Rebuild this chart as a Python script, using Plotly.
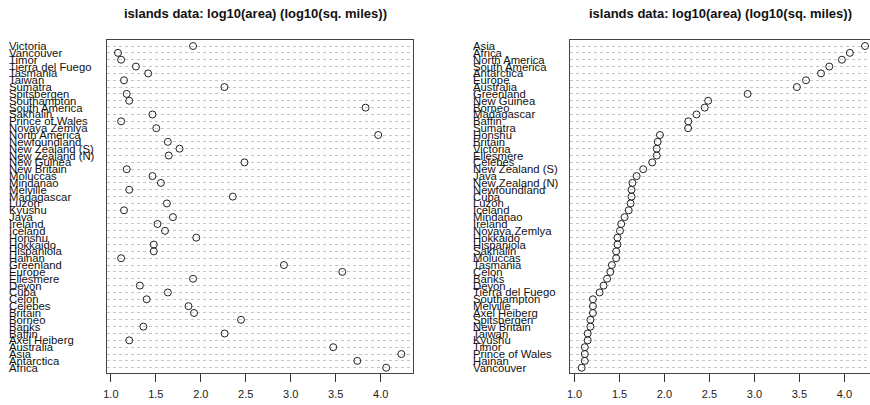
import numpy as np
import plotly.graph_objects as go

# islands data: area in thousands of square miles (dataset order, alphabetical)
islands = ["Africa", "Antarctica", "Asia", "Australia", "Axel Heiberg", "Baffin", "Banks",
           "Borneo", "Britain", "Celebes", "Celon", "Cuba", "Devon", "Ellesmere", "Europe",
           "Greenland", "Hainan", "Hispaniola", "Hokkaido", "Honshu", "Iceland", "Ireland",
           "Java", "Kyushu", "Luzon", "Madagascar", "Melville", "Mindanao", "Moluccas",
           "New Britain", "New Guinea", "New Zealand (N)", "New Zealand (S)", "Newfoundland",
           "North America", "Novaya Zemlya", "Prince of Wales", "Sakhalin", "South America",
           "Southampton", "Spitsbergen", "Sumatra", "Taiwan", "Tasmania", "Tierra del Fuego",
           "Timor", "Vancouver", "Victoria"]
area = [11506, 5500, 16988, 2968, 16, 184, 23, 280, 84, 73, 25, 43, 21, 82, 3745, 840, 13,
        30, 30, 89, 40, 33, 49, 14, 42, 227, 16, 36, 29, 15, 306, 44, 58, 43, 9390, 32, 13,
        29, 6795, 16, 15, 183, 14, 26, 19, 13, 12, 82]

# order of the sorted panel, from bottom (smallest) to top (largest)
sorted_names = ["Vancouver", "Hainan", "Prince of Wales", "Timor", "Kyushu", "Taiwan",
                "New Britain", "Spitsbergen", "Axel Heiberg", "Melville", "Southampton",
                "Tierra del Fuego", "Devon", "Banks", "Celon", "Tasmania", "Moluccas",
                "Sakhalin", "Hispaniola", "Hokkaido", "Novaya Zemlya", "Ireland", "Mindanao",
                "Iceland", "Luzon", "Cuba", "Newfoundland", "New Zealand (N)", "Java",
                "New Zealand (S)", "Celebes", "Ellesmere", "Victoria", "Britain", "Honshu",
                "Sumatra", "Baffin", "Madagascar", "Borneo", "New Guinea", "Greenland",
                "Australia", "Europe", "Antarctica", "South America", "North America",
                "Africa", "Asia"]

x_ticks = [1.0, 1.5, 2.0, 2.5, 3.0, 3.5, 4.0]
tick_text = ["1.0", "1.5", "2.0", "2.5", "3.0", "3.5", "4.0"]
title_text = "islands data: log10(area) (log10(sq. miles))"

logv = dict(zip(islands, np.log10(area)))
rows_left = list(range(1, len(islands) + 1))
rows_right = list(range(1, len(sorted_names) + 1))

W, H = 870, 405
FONT = "Liberation Sans, Arial, sans-serif"
MARK = dict(symbol="circle-open", size=7, line=dict(width=1, color="#222"), color="#222")

fig = go.Figure()
fig.add_trace(go.Scatter(x=[logv[n] for n in islands], y=rows_left, mode="markers",
                         marker=MARK, xaxis="x", yaxis="y", hoverinfo="skip"))
fig.add_trace(go.Scatter(x=[logv[n] for n in sorted_names], y=rows_right, mode="markers",
                         marker=MARK, xaxis="x2", yaxis="y2", hoverinfo="skip"))

ydom = [(H - 373) / H, (H - 40) / H]
pxu = 307 / 3.402
xl0 = 0.953
common_x = dict(tickvals=x_ticks, ticktext=tick_text, ticks="outside", ticklen=8,
                tickwidth=1, tickcolor="#333", showgrid=False, zeroline=False,
                showline=True, linecolor="#444", linewidth=1.3, ticklabelstandoff=3,
                tickfont=dict(family=FONT, size=11, color="#222"))
common_y = dict(range=[0.23, 48.88], tickvals=rows_left, showticklabels=False, ticks="",
                showgrid=True, gridcolor="#c4c4c4", griddash="dot", gridwidth=1,
                zeroline=False, showline=True, linecolor="#444", linewidth=1.3)

fig.update_layout(
    width=W, height=H, margin=dict(l=0, r=0, t=0, b=0),
    paper_bgcolor="white", plot_bgcolor="white", showlegend=False,
    xaxis=dict(domain=[104 / W, 411 / W], range=[xl0, xl0 + 307 / pxu], anchor="y",
               mirror=True, **common_x),
    yaxis=dict(domain=ydom, anchor="x", mirror=True, **common_y),
    xaxis2=dict(domain=[569.3 / W, 1.0], range=[xl0, xl0 + (W - 569.3) / pxu], anchor="y2",
                mirror=True, **common_x),
    yaxis2=dict(domain=ydom, anchor="x2", mirror=False, **common_y),
)

ann = []
for i, n in enumerate(islands):
    ann.append(dict(x=5 / W, xref="paper", y=rows_left[i], yref="y", text=n,
                    showarrow=False, xanchor="left", yanchor="middle", borderpad=0,
                    font=dict(family=FONT, size=11.3, color="#111")))
for i, n in enumerate(sorted_names):
    ann.append(dict(x=471 / W, xref="paper", y=rows_right[i], yref="y2", text=n,
                    showarrow=False, xanchor="left", yanchor="middle", borderpad=0,
                    font=dict(family=FONT, size=11.3, color="#111")))
for cx in (253, 720):
    ann.append(dict(x=cx / W, xref="paper", y=(H - 14) / H, yref="paper",
                    text="<b>" + title_text + "</b>", showarrow=False,
                    xanchor="center", yanchor="middle",
                    font=dict(family=FONT, size=13, color="#111")))
fig.update_layout(annotations=ann)

fig.write_html("out.html", config={"displayModeBar": False},
               post_script="document.body.style.margin='0';document.body.style.overflow='hidden';")
